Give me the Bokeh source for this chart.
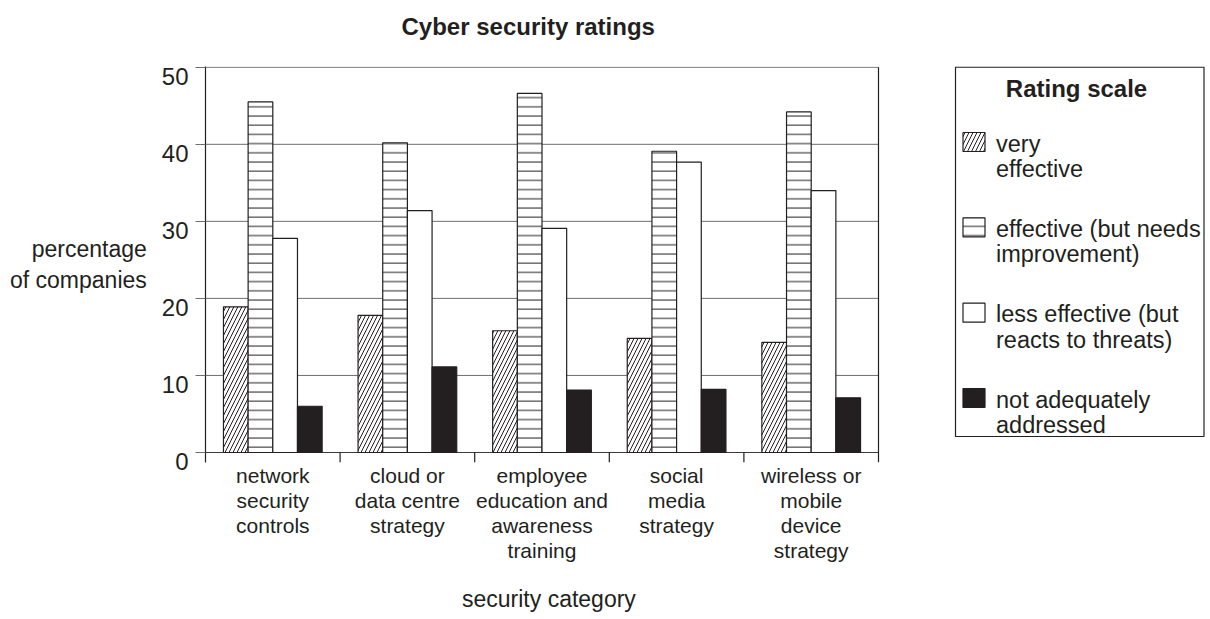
import numpy as np
from bokeh.plotting import figure
from bokeh.models import Range1d, FixedTicker, LinearAxis
from bokeh.core.properties import value
from bokeh.embed import file_html
from bokeh.resources import INLINE

# ---------------- data ----------------
categories = [
    "network\nsecurity\ncontrols",
    "cloud or\ndata centre\nstrategy",
    "employee\neducation and\nawareness\ntraining",
    "social\nmedia\nstrategy",
    "wireless or\nmobile\ndevice\nstrategy",
]
very_effective = [18.9, 17.8, 15.8, 14.8, 14.3]
effective_needs_improvement = [45.5, 40.2, 46.6, 39.1, 44.2]
less_effective = [27.8, 31.4, 29.1, 37.7, 34.0]
not_adequately_addressed = [6.0, 11.1, 8.1, 8.2, 7.1]
y_ticks = [0, 10, 20, 30, 40, 50]
legend_title = "Rating scale"
legend_labels = [
    ["very", "effective"],
    ["effective (but needs", "improvement)"],
    ["less effective (but", "reacts to threats)"],
    ["not adequately", "addressed"],
]
chart_title = "Cyber security ratings"
x_title = "security category"
y_title = "percentage\nof companies"

FONT = "Liberation Sans"
INK = "#231f20"
GRID = "#6f6f6f"
NBSP = "\u00a0"

series = [very_effective, effective_needs_improvement, less_effective, not_adequately_addressed]
styles = [
    dict(fill_color="white", hatch_pattern="/", hatch_scale=8, hatch_color=INK, hatch_weight=1),
    dict(fill_color="white", hatch_pattern="-", hatch_scale=9.2, hatch_color=INK, hatch_weight=1),
    dict(fill_color="white"),
    dict(fill_color=INK),
]

n = len(categories)
idx = np.arange(n)
bw = 0.1833

W, H = 1210, 619
MB_L, MB_R, MB_T = 205, 5, 66
Y_LO, Y_HI = -1.3, 50.1
frame_w = W - MB_L - MB_R
frame_h = 396
MB_B = H - MB_T - frame_h
X_HI = frame_w / 134.6          # 134.6 px per category
XS = frame_w / X_HI
YS = frame_h / (Y_HI - Y_LO)
PX0 = MB_L                       # canvas x of x = 0
PY0 = MB_T + Y_HI * YS           # canvas y of y = 0


def dx(px):
    return (px - PX0) / XS


def dy(py):
    return (PY0 - py) / YS


p = figure(width=W, height=H, x_range=Range1d(0, X_HI), y_range=Range1d(Y_LO, Y_HI),
           output_backend="svg", toolbar_location=None,
           min_border_left=MB_L, min_border_right=MB_R, min_border_top=MB_T, min_border_bottom=MB_B)
p.outline_line_color = None
p.background_fill_color = "white"
p.grid.visible = False

# main title (above); a blank second line lifts it towards the top edge
p.title.text = chart_title + "\n" + NBSP
p.title.align = "left"
p.title.offset = 196
p.title.vertical_align = "bottom"
p.title.standoff = 0
p.title.text_font = FONT
p.title.text_font_size = "24px"
p.title.text_font_style = "bold"
p.title.text_color = INK

# y axis: line + ticks only
ya = p.yaxis[0]
ya.ticker = FixedTicker(ticks=y_ticks, minor_ticks=[])
ya.major_label_overrides = {t: "" for t in y_ticks}
ya.major_label_standoff = 0
ya.major_tick_out = 10
ya.major_tick_in = 0
ya.major_tick_line_color = GRID
ya.minor_tick_line_color = None
ya.axis_line_color = INK
ya.axis_line_width = 1.2

# y labels: second axis, shifted ~10px below their ticks as in the reference
shift = 9.5 / YS
p.extra_y_ranges = {"lab": Range1d(Y_LO + shift, Y_HI + shift)}
la = LinearAxis(y_range_name="lab", ticker=FixedTicker(ticks=y_ticks, minor_ticks=[]))
la.axis_line_color = None
la.major_tick_line_color = None
la.minor_tick_line_color = None
la.major_tick_out = 0
la.major_tick_in = 0
la.major_label_standoff = 7
la.major_label_text_font = FONT
la.major_label_text_font_size = "24px"
la.major_label_text_color = INK
la.axis_label = y_title
la.axis_label_orientation = "horizontal"
la.axis_label_text_font = FONT
la.axis_label_text_font_size = "23px"
la.axis_label_text_font_style = "normal"
la.axis_label_text_color = INK
la.axis_label_text_align = "right"
la.axis_label_standoff = 12
p.add_layout(la, "left")

# x axis: category labels + axis title (padded so it sits under the bar area)
xa = p.xaxis[0]
xa.ticker = FixedTicker(ticks=list(idx + 0.5), minor_ticks=[])
xa.major_label_overrides = {float(i + 0.5): c for i, c in enumerate(categories)}
xa.major_label_text_font = FONT
xa.major_label_text_font_size = "21px"
xa.major_label_text_line_height = 1.1
xa.major_label_text_color = INK
xa.major_label_standoff = 1
xa.major_tick_out = 0
xa.major_tick_in = 0
xa.major_tick_line_color = None
xa.minor_tick_line_color = None
xa.axis_line_color = None
xa.axis_label = x_title + NBSP * 49
xa.axis_label_text_font = FONT
xa.axis_label_text_font_size = "23px"
xa.axis_label_text_font_style = "normal"
xa.axis_label_text_color = INK
xa.axis_label_standoff = 21

# gridlines, zero line, right border, category separators
grid_vals = [t for t in y_ticks if t > 0]
p.segment(x0=[0] * len(grid_vals), y0=grid_vals, x1=[n] * len(grid_vals), y1=grid_vals,
          line_color=GRID, line_width=1)
p.segment(x0=[0], y0=[0], x1=[n], y1=[0], line_color="#3a3a3a", line_width=1)
bounds = np.arange(1, n + 1)
p.segment(x0=bounds, y0=[Y_LO] * n, x1=bounds, y1=[0] * (n - 1) + [50], line_color=INK, line_width=1.2)

for k, (vals, st) in enumerate(zip(series, styles)):
    xs = idx + 0.5 + (k - 1.5) * bw
    p.vbar(x=xs, top=vals, bottom=0, width=bw, line_color=INK, line_width=1.2, **st)

# ---------------- legend ----------------
p.quad(left=[dx(955)], right=[dx(1203.5)], top=[dy(66.7)], bottom=[dy(436)],
       fill_color=None, line_color=INK, line_width=1.2)
p.text(x=[dx(1076)], y=[dy(88)], text=[legend_title], text_font=value(FONT), text_font_size="24px",
       text_font_style="bold", text_color=INK, text_align="center", text_baseline="middle")
first_y = [143, 228.3, 313.7, 399]
for k, st in enumerate(styles):
    p.rect(x=[dx(973.5)], y=[dy(first_y[k] - 1.5)], width=22, height=19,
           width_units="screen", height_units="screen", line_color=INK, line_width=1.2, **st)
    p.text(x=[dx(995.5), dx(995.5)], y=[dy(first_y[k]), dy(first_y[k] + 25.5)], text=legend_labels[k],
           text_font=value(FONT), text_font_size="23.5px", text_color=INK,
           text_align="left", text_baseline="middle")

open("out.html", "w").write(file_html(p, INLINE))
